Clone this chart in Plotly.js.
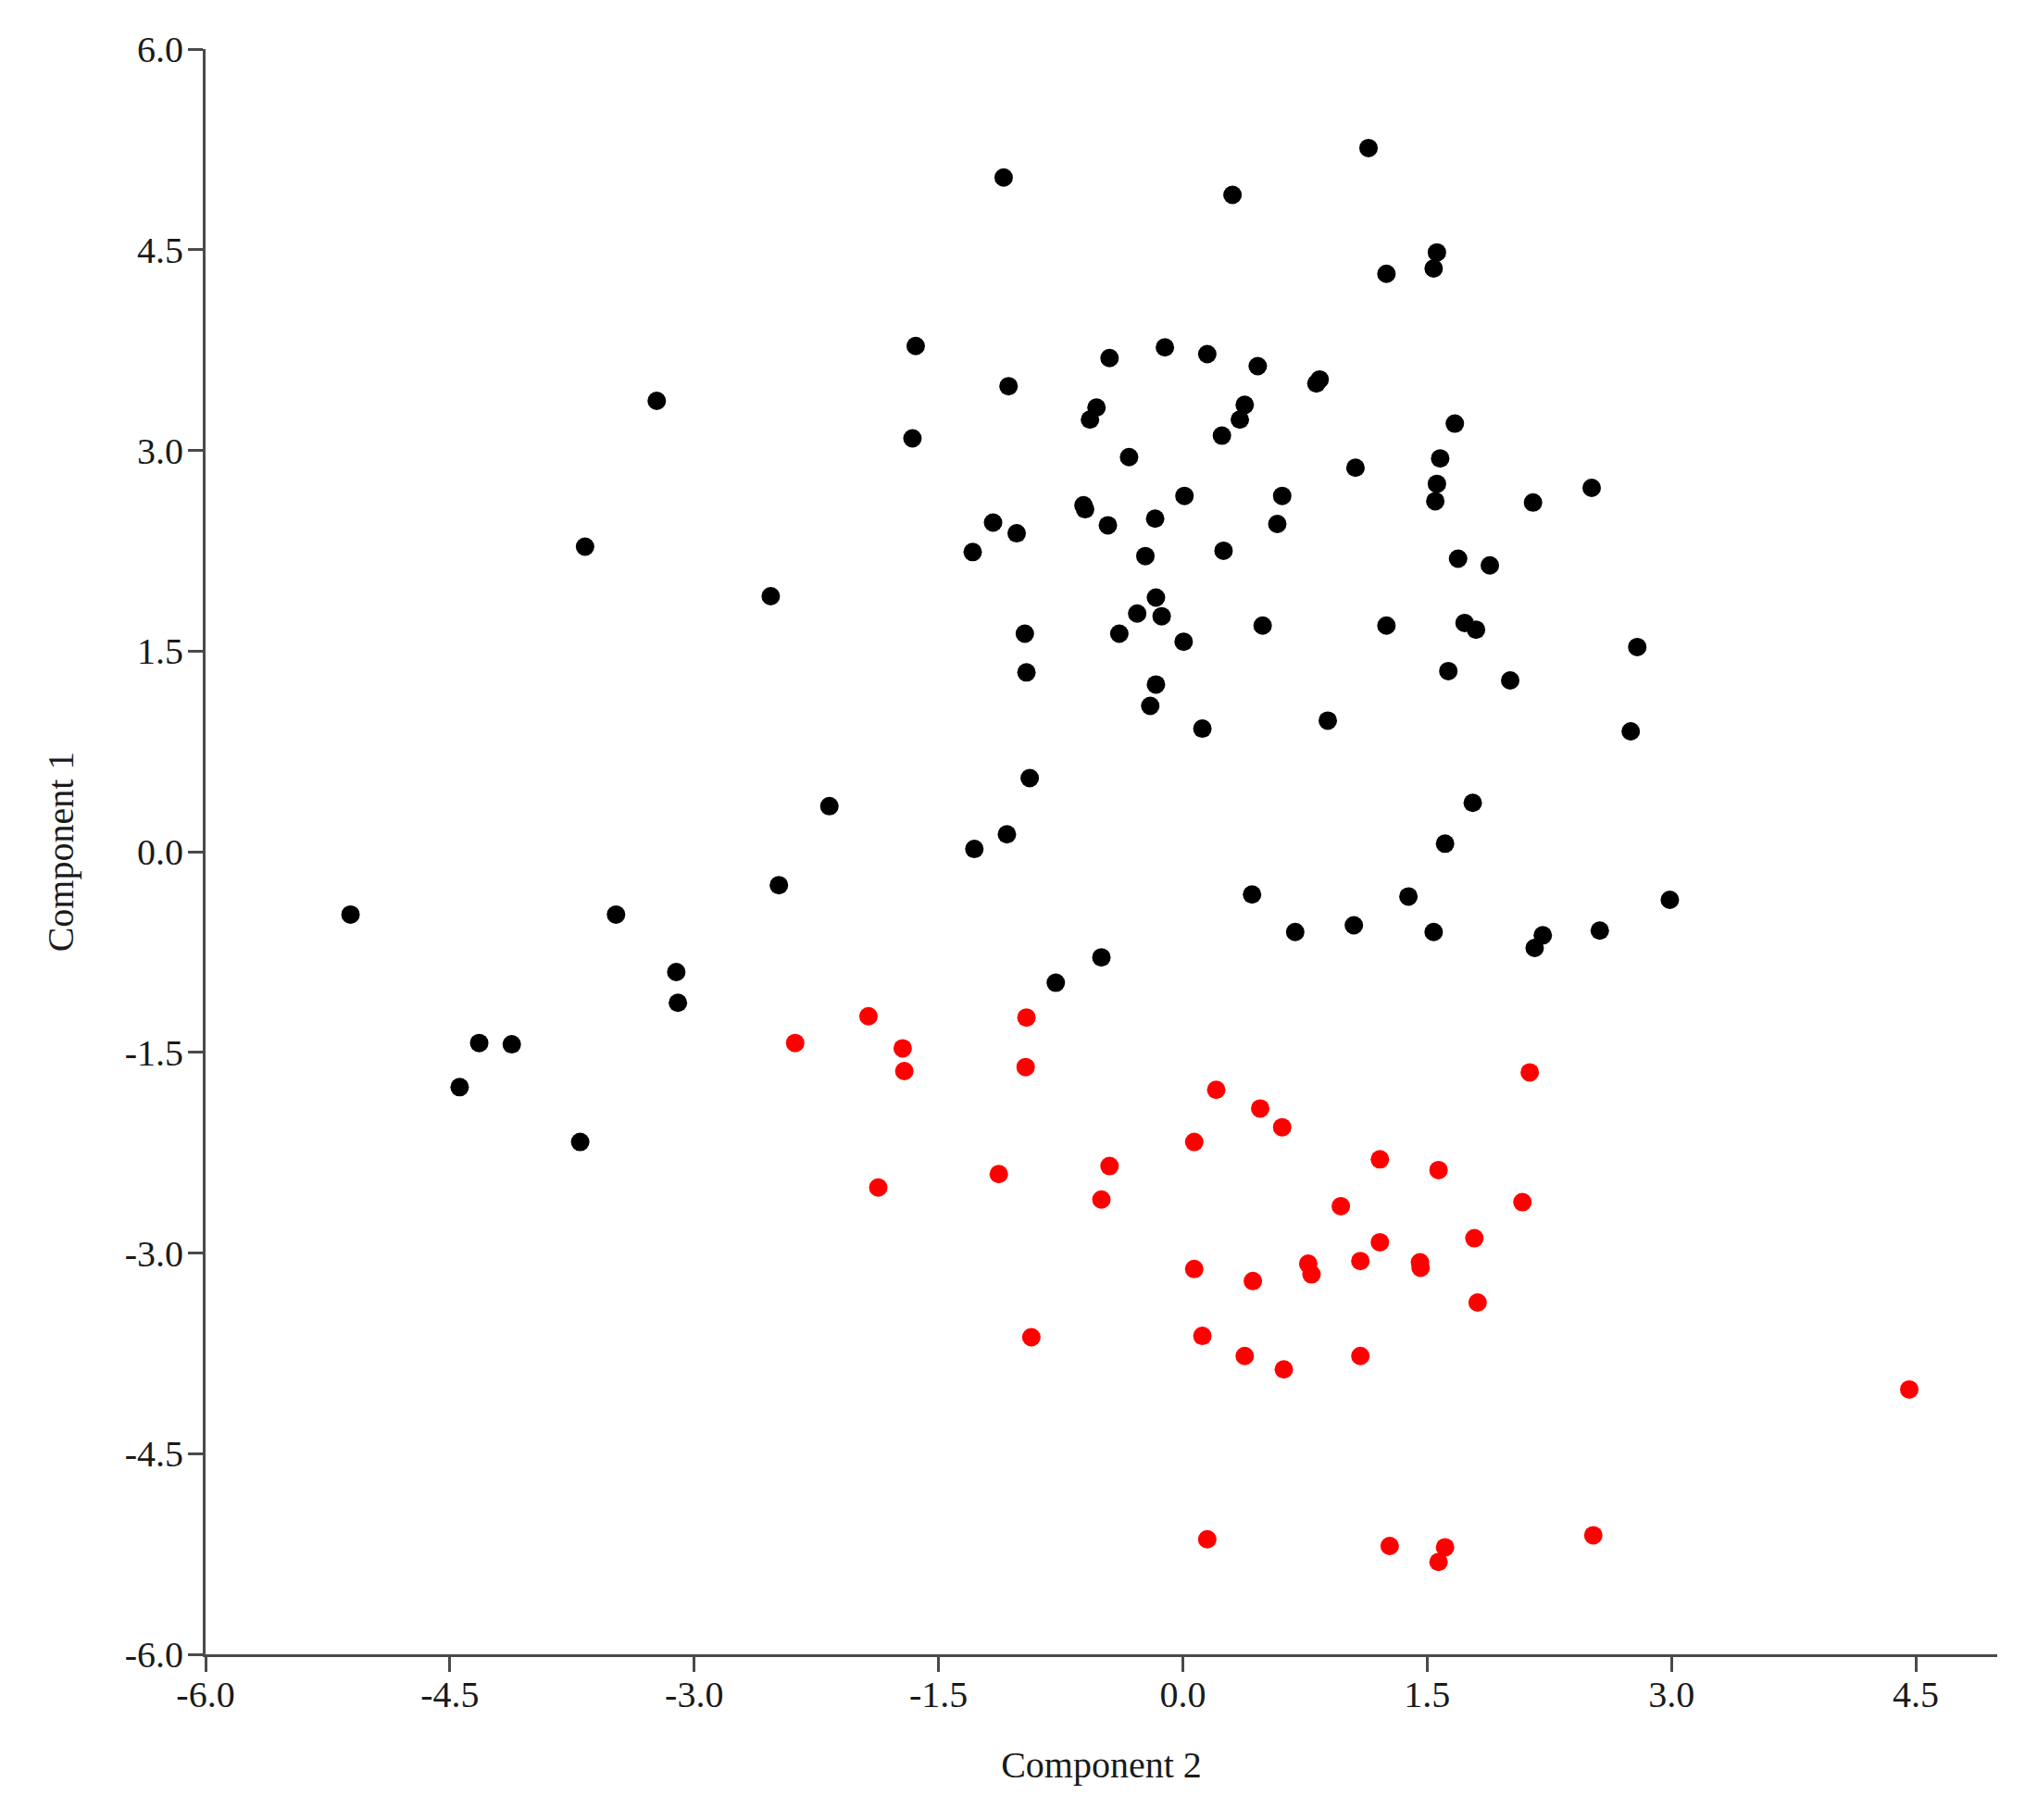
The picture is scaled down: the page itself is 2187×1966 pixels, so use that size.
<!DOCTYPE html>
<html>
<head>
<meta charset="utf-8">
<script src="https://cdn.plot.ly/plotly-3.0.1.min.js"></script>
<style>html,body{margin:0;padding:0;background:#fff;}#chart{width:2187px;height:1966px;}</style>
</head>
<body>
<div id="chart"></div>
<script>
// Group 1 (black) — Component 2 (x) and Component 1 (y)
const blackX = [-5.11,-4.44,-4.32,-4.12,-3.70,-3.67,-3.48,-3.23,-3.11,-3.10,-2.53,-2.48,-2.17,-1.64,-1.66,-1.28,-1.29,-1.165,-1.10,-1.07,-1.08,-1.02,-0.97,-0.96,-0.94,-0.78,-0.61,-0.60,-0.57,-0.53,-0.50,-0.46,-0.45,-0.39,-0.33,-0.28,-0.23,-0.20,-0.165,-0.17,-0.165,-0.13,-0.11,0.01,0.005,0.12,0.15,0.24,0.25,0.305,0.35,0.38,0.425,0.46,0.49,0.58,0.61,0.69,0.82,0.84,0.89,1.05,1.06,1.14,1.25,1.25,1.385,1.54,1.54,1.56,1.56,1.55,1.58,1.61,1.63,1.67,1.69,1.73,1.80,1.78,1.885,2.01,2.15,2.16,2.21,2.51,2.56,2.75,2.79,2.99];
const blackY = [-0.47,-1.76,-1.43,-1.44,-2.17,2.28,-0.47,3.37,-0.90,-1.13,1.91,-0.25,0.34,3.78,3.09,0.02,2.24,2.46,5.04,3.48,0.13,2.38,1.63,1.34,0.55,-0.98,2.59,2.56,3.23,3.32,-0.79,2.44,3.69,1.63,2.95,1.78,2.21,1.09,1.90,2.49,1.25,1.76,3.77,2.66,1.57,0.92,3.72,3.11,2.25,4.91,3.23,3.34,-0.32,3.63,1.69,2.45,2.66,-0.60,3.50,3.53,0.98,-0.55,2.87,5.26,4.32,1.69,-0.335,-0.60,4.36,4.48,2.75,2.62,2.94,0.06,1.35,3.20,2.19,1.71,1.66,0.365,2.14,1.28,2.61,-0.72,-0.625,2.72,-0.59,0.90,1.53,-0.36];
// Group 2 (red)
const redX = [-2.38,-1.93,-1.72,-1.71,-1.87,-1.13,-0.96,-0.965,-0.93,-0.50,-0.45,0.07,0.205,0.07,0.12,0.15,0.38,0.43,0.475,0.61,0.62,0.77,0.79,0.97,1.09,1.09,1.21,1.21,1.27,1.456,1.46,1.57,1.61,1.57,1.79,1.81,2.085,2.13,2.52,4.46];
const redY = [-1.43,-1.23,-1.47,-1.64,-2.51,-2.41,-1.24,-1.61,-3.63,-2.60,-2.35,-2.17,-1.78,-3.12,-3.62,-5.14,-3.77,-3.21,-1.92,-2.06,-3.87,-3.08,-3.16,-2.65,-3.06,-3.77,-2.30,-2.92,-5.19,-3.07,-3.11,-2.38,-5.20,-5.31,-2.89,-3.37,-2.62,-1.65,-5.11,-4.02];

// Tick values and labels (hyphen minus, as in the original)
const xTickVals = [-6.0,-4.5,-3.0,-1.5,0.0,1.5,3.0,4.5];
const xTickText = ['-6.0','-4.5','-3.0','-1.5','0.0','1.5','3.0','4.5'];
const yTickVals = [-6.0,-4.5,-3.0,-1.5,0.0,1.5,3.0,4.5,6.0];
const yTickText = ['-6.0','-4.5','-3.0','-1.5','0.0','1.5','3.0','4.5','6.0'];

const xTitle = 'Component 2';
const yTitle = 'Component 1';

const FONT = 'Liberation Serif, Times New Roman, serif';

const traces = [
  {x: blackX, y: blackY, type: 'scatter', mode: 'markers', name: 'Group 1',
   marker: {color: '#000000', size: 20}},
  {x: redX, y: redY, type: 'scatter', mode: 'markers', name: 'Group 2',
   marker: {color: '#ff0000', size: 20}}
];

const axisCommon = {
  showgrid: false, zeroline: false, showline: true,
  linecolor: '#4a4a4a', linewidth: 3,
  ticks: 'outside', ticklen: 16, tickwidth: 3, tickcolor: '#4a4a4a',
  tickmode: 'array',
  tickfont: {family: FONT, size: 40, color: '#1a1a1a'},
  mirror: false
};

const layout = {
  width: 2187, height: 1966,
  margin: {l: 222, r: 30, t: 53, b: 179},
  paper_bgcolor: '#ffffff', plot_bgcolor: '#ffffff',
  showlegend: false,
  font: {family: FONT, color: '#1a1a1a'},
  xaxis: Object.assign({}, axisCommon, {
    range: [-6, 5],
    tickvals: xTickVals, ticktext: xTickText,
    ticklabelstandoff: -10,
    title: {text: xTitle, font: {family: FONT, size: 40, color: '#1a1a1a'}, standoff: 40}
  }),
  yaxis: Object.assign({}, axisCommon, {
    range: [-6, 6],
    tickvals: yTickVals, ticktext: yTickText,
    ticklabelstandoff: -3,
    title: {text: yTitle, font: {family: FONT, size: 40, color: '#1a1a1a'}, standoff: 43}
  })
};

Plotly.newPlot('chart', traces, layout, {displayModeBar: false, staticPlot: true});
</script>
</body>
</html>
